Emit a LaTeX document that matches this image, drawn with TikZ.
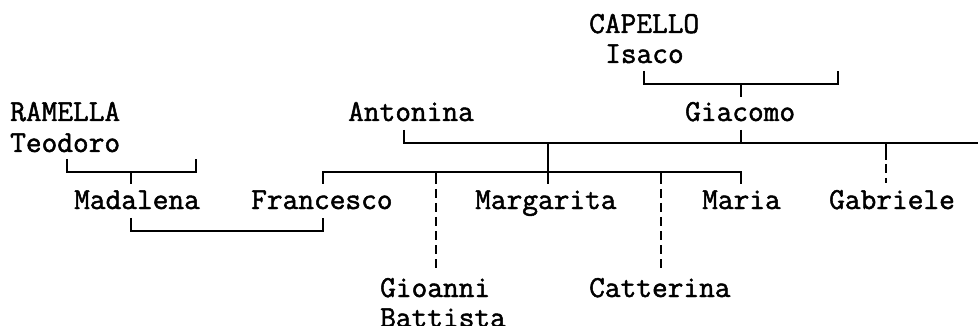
\documentclass[tikz,border=0pt]{standalone}
\usepackage{fontspec}
\newfontfamily\gfont[FakeBold=1.6]{Latin Modern Mono}
\begin{document}
\begin{tikzpicture}[x=1pt,y=-1pt,
  person/.style={inner sep=0pt,anchor=base west,font=\gfont\fontsize{30.5}{31}\selectfont},
  link/.style={line width=1.7pt,line cap=butt,line join=miter},
  illeg/.style={line width=1.7pt,dash pattern=on 9pt off 5pt}]
\useasboundingbox (0,0) rectangle (978,326);
% people
\node[person] (capello) at (589,33) {CAPELLO};
\node[person] (isaco) at (605,63) {Isaco};
\node[person] (ramella) at (10,121) {RAMELLA};
\node[person] (teodoro) at (10,152) {Teodoro};
\node[person] (antonina) at (348,121) {Antonina};
\node[person] (giacomo) at (685,121) {Giacomo};
\node[person] (madalena) at (74,209) {Madalena};
\node[person] (francesco) at (251,209) {Francesco};
\node[person] (margarita) at (475,209) {Margarita};
\node[person] (maria) at (702,209) {Maria};
\node[person] (gabriele) at (829,209) {Gabriele};
\node[person] (gioanni) at (380,297) {Gioanni};
\node[person] (battista) at (380,327) {Battista};
\node[person] (catterina) at (589,297) {Catterina};
% junction coordinates
\coordinate (isacoL) at (644,71);
\coordinate (isacoR) at (838,71);
\coordinate (isacoM) at (741,84);
\coordinate (giacomoTop) at (741,97);
\coordinate (teoL) at (67,159);
\coordinate (teoR) at (196,159);
\coordinate (teoM) at (131,172);
\coordinate (madTop) at (131,184);
\coordinate (madBot) at (131,218);
\coordinate (fraBot) at (323,218);
\coordinate (antBot) at (404,130);
\coordinate (giaBot) at (741,130);
\coordinate (famEnd) at (978,143);
\coordinate (famMid) at (548,143);
\coordinate (fraTop) at (323,184);
\coordinate (marTop) at (548,184);
\coordinate (mariaTop) at (741,184);
\coordinate (gioTop) at (436,272);
\coordinate (catTop) at (661,272);
\coordinate (gabTop) at (886,183);
% brackets
\draw[link] (isacoL) |- (isacoM) -| (isacoR);
\draw[link] (isacoM) -- (giacomoTop);
\draw[link] (teoL) |- (teoM) -| (teoR);
\draw[link] (teoM) -- (madTop);
\draw[link] (madBot) |- (323,231) -- (fraBot);
\draw[link] (antBot) |- (famEnd);
\draw[link] (giaBot) -- (741,143);
\draw[link] (famMid) -- (marTop);
\draw[link] (fraTop) |- (mariaTop |- 0,172) -- (mariaTop);
% illegitimate / dashed
\draw[link] (436,172) -- (436,184);
\draw[illeg] (436,184) ++(0,5) -- (gioTop);
\draw[link] (661,172) -- (661,184);
\draw[illeg] (661,184) ++(0,5) -- (catTop);
\draw[link] (886,143) -- (886,160);
\draw[illeg] (886,160) ++(0,4) -- (gabTop);
\end{tikzpicture}
\end{document}
